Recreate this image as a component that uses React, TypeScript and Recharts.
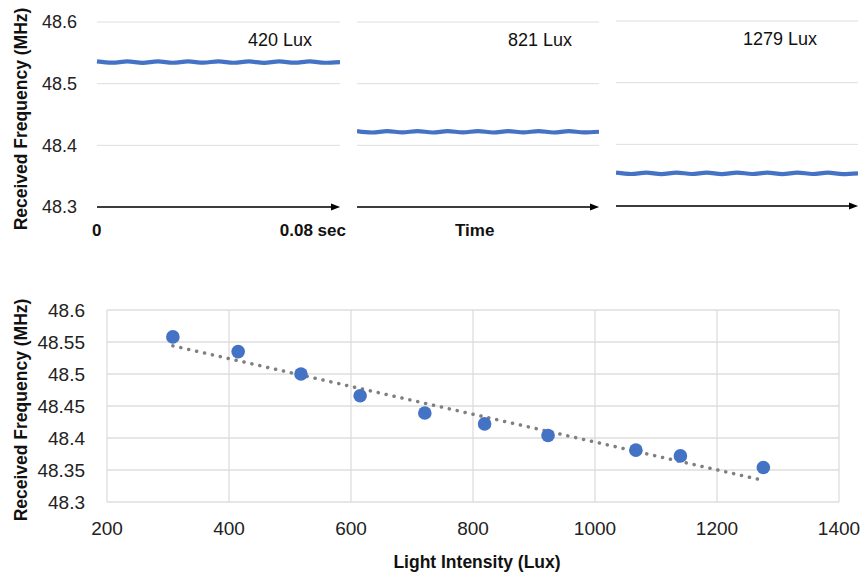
import React from "react";
import {
  CartesianGrid,
  LineChart,
  Line,
  XAxis,
  YAxis,
  ReferenceLine,
  ScatterChart,
  Scatter,
} from "recharts";

// top panels: received frequency over one 0.08 s window at three light levels
const panelLabels = ["420 Lux", "821 Lux", "1279 Lux"];
const wave420 = [
  48.5362, 48.5340, 48.5360, 48.5338, 48.5361, 48.5339, 48.5360, 48.5340, 48.5362,
  48.5339, 48.5361, 48.5338, 48.5360, 48.5340, 48.5361, 48.5339, 48.5350,
];
const wave821 = [
  48.4232, 48.4208, 48.4231, 48.4209, 48.4232, 48.4208, 48.4231, 48.4209, 48.4232,
  48.4208, 48.4231, 48.4209, 48.4232, 48.4208, 48.4231, 48.4209, 48.4220,
];
const wave1279 = [
  48.3542, 48.3519, 48.3541, 48.3518, 48.3542, 48.3519, 48.3541, 48.3518, 48.3542,
  48.3519, 48.3541, 48.3518, 48.3542, 48.3519, 48.3541, 48.3518, 48.3530,
];
const topTicks = [48.3, 48.4, 48.5, 48.6];

// bottom scatter: frequency vs light intensity
const luxValues = [308, 415, 518, 615, 721, 819, 923, 1067, 1140, 1276];
const freqValues = [48.558, 48.535, 48.5, 48.466, 48.439, 48.422, 48.404, 48.381, 48.372, 48.354];
const trendLux = [308, 1270];
const trendFreq = [48.544, 48.335];
const luxTicks = [200, 400, 600, 800, 1000, 1200, 1400];
const freqTicks = [48.3, 48.35, 48.4, 48.45, 48.5, 48.55, 48.6];

const BLUE = "#4472C4";
const GRID = "#dedede";
const FONT = "'Liberation Sans', Arial, Helvetica, sans-serif";

const Arrow = (props: any) => {
  const { x1, y1, x2 } = props;
  return (
    <g>
      <line x1={x1} y1={y1} x2={x2 - 6} y2={y1} stroke="#000" strokeWidth={1.4} />
      <polygon points={`${x2},${y1} ${x2 - 9},${y1 - 3.5} ${x2 - 9},${y1 + 3.5}`} fill="#000" />
    </g>
  );
};

function Panel({
  values,
  left,
  width,
  top,
  bottom,
  showAxis,
}: {
  values: number[];
  left: number;
  width: number;
  top: number;
  bottom: number;
  showAxis: boolean;
}) {
  const data = values.map((v, i) => ({ t: i, f: v }));
  return (
    <div style={{ position: "absolute", left, top: 0 }}>
      <LineChart
        width={width}
        height={250}
        data={data}
        margin={{ top, bottom, left: 0, right: 0 }}
      >
        <CartesianGrid vertical={false} stroke={GRID} />
        <XAxis dataKey="t" type="number" domain={[0, values.length - 1]} hide />
        <YAxis
          domain={[48.3, 48.6]}
          ticks={topTicks}
          hide={!showAxis}
          width={97}
          axisLine={false}
          tickLine={false}
          tickSize={0}
          tickMargin={20}
          tickFormatter={(v: number) => v.toFixed(1)}
          tick={{ fill: "#222", fontSize: 18, fontFamily: FONT }}
        />
        <ReferenceLine y={48.3} shape={Arrow} ifOverflow="visible" />
        <Line
          dataKey="f"
          type="monotone"
          stroke={BLUE}
          strokeWidth={4.2}
          dot={false}
          isAnimationActive={false}
        />
      </LineChart>
    </div>
  );
}

const txt = (extra: React.CSSProperties): React.CSSProperties => ({
  position: "absolute",
  fontFamily: FONT,
  color: "#111",
  whiteSpace: "nowrap",
  lineHeight: 1,
  ...extra,
});

export default function App() {
  const points = luxValues.map((x, i) => ({ x, y: freqValues[i] }));
  return (
    <div
      style={{
        position: "absolute",
        left: 0,
        top: 0,
        width: 862,
        height: 575,
        background: "#fff",
        overflow: "hidden",
      }}
    >
      <Panel values={wave420} left={0} width={340} top={22} bottom={43} showAxis />
      <Panel values={wave821} left={357} width={242} top={22} bottom={43} showAxis={false} />
      <Panel values={wave1279} left={616} width={242} top={21} bottom={44} showAxis={false} />

      <div style={txt({ left: 248, top: 31, fontSize: 18 })}>{panelLabels[0]}</div>
      <div style={txt({ left: 508, top: 31, fontSize: 18 })}>{panelLabels[1]}</div>
      <div style={txt({ left: 743, top: 30, fontSize: 18 })}>{panelLabels[2]}</div>

      <div style={txt({ left: 92, top: 222, fontSize: 17, fontWeight: "bold" })}>0</div>
      <div style={txt({ right: 862 - 346, top: 222, fontSize: 17, fontWeight: "bold" })}>0.08 sec</div>
      <div style={txt({ left: 455, top: 222, fontSize: 17, fontWeight: "bold" })}>Time</div>

      <div
        style={txt({
          left: 22,
          top: 119,
          fontSize: 17.5,
          fontWeight: "bold",
          transform: "translate(-50%, -50%) rotate(-90deg)",
        })}
      >
        Received Frequency (MHz)
      </div>

      <div style={{ position: "absolute", left: 0, top: 280 }}>
        <ScatterChart width={862} height={295} margin={{ top: 30, bottom: 43, left: 0, right: 23 }}>
          <CartesianGrid stroke={GRID} strokeWidth={1.3} />
          <XAxis
            dataKey="x"
            type="number"
            domain={[200, 1400]}
            ticks={luxTicks}
            height={30}
            axisLine={false}
            tickLine={false}
            tickSize={0}
            tickMargin={20}
            tick={{ fill: "#222", fontSize: 19, fontFamily: FONT }}
          />
          <YAxis
            dataKey="y"
            type="number"
            domain={[48.3, 48.6]}
            ticks={freqTicks}
            width={107}
            axisLine={false}
            tickLine={false}
            tickSize={0}
            tickMargin={22}
            tickFormatter={(v: number) => String(Math.round(v * 100) / 100)}
            tick={{ fill: "#222", fontSize: 19, fontFamily: FONT }}
          />
          <ReferenceLine
            segment={[
              { x: trendLux[0], y: trendFreq[0] },
              { x: trendLux[1], y: trendFreq[1] },
            ]}
            stroke="#7f7f7f"
            strokeWidth={3.5}
            strokeDasharray="0.1 8"
            strokeLinecap="round"
          />
          <Scatter
            data={points}
            fill={BLUE}
            isAnimationActive={false}
            shape={(p: any) => <circle cx={p.cx} cy={p.cy} r={6.8} fill={BLUE} />}
          />
        </ScatterChart>
      </div>

      <div
        style={txt({
          left: 22,
          top: 410,
          fontSize: 17.5,
          fontWeight: "bold",
          transform: "translate(-50%, -50%) rotate(-90deg)",
        })}
      >
        Received Frequency (MHz)
      </div>
      <div style={txt({ left: 477, top: 563, fontSize: 17.5, fontWeight: "bold", transform: "translate(-50%, -50%)" })}>
        Light Intensity (Lux)
      </div>
    </div>
  );
}
